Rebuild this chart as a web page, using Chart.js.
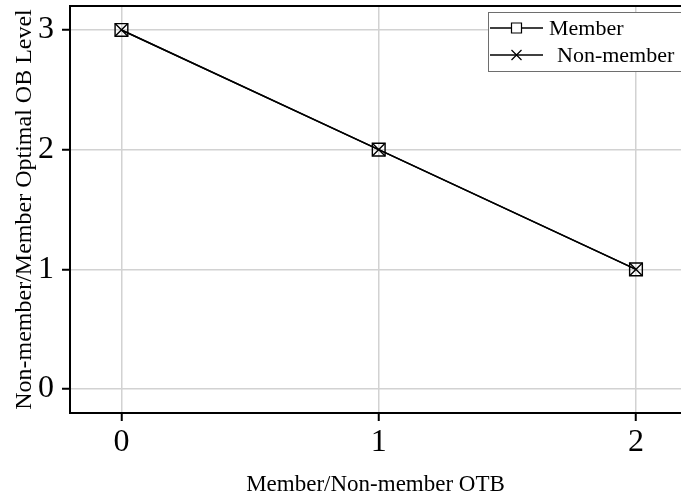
<!DOCTYPE html>
<html>
<head>
<meta charset="utf-8">
<script src="https://cdn.jsdelivr.net/npm/chart.js@4/dist/chart.umd.min.js"></script>
<style>
  html, body { margin: 0; padding: 0; background: #ffffff; }
  #wrap { width: 681px; height: 499px; }
</style>
</head>
<body>
<div id="wrap"><canvas id="c" width="681" height="499"></canvas></div>
<script>
// Data
const otbLevels = [0, 1, 2];
const memberOptimal = [3, 2, 1];
const nonMemberOptimal = [3, 2, 1];
const xTickValues = [0, 1, 2];
const yTickValues = [0, 1, 2, 3];
const seriesNames = ['Member', 'Non-member'];
const xAxisTitle = 'Member/Non-member OTB';
const yAxisTitle = 'Non-member/Member Optimal OB Level';

const serif = "'Liberation Serif', 'Times New Roman', serif";

function toPoints(xs, ys) {
  return xs.map((x, i) => ({ x: x, y: ys[i] }));
}

// Draws an open square or a diagonal cross centred on (x, y)
function drawMarker(ctx, style, x, y, half, lw) {
  ctx.save();
  ctx.lineWidth = lw;
  ctx.strokeStyle = '#000';
  ctx.beginPath();
  if (style === 'rect') {
    ctx.fillStyle = '#fff';
    ctx.rect(x - half, y - half, half * 2, half * 2);
    ctx.fill();
  } else {
    ctx.moveTo(x - half, y - half); ctx.lineTo(x + half, y + half);
    ctx.moveTo(x - half, y + half); ctx.lineTo(x + half, y - half);
  }
  ctx.stroke();
  ctx.restore();
}

// Top frame line across the plot area
const frameTop = {
  id: 'frameTop',
  afterDraw(chart) {
    const { ctx, chartArea } = chart;
    ctx.save();
    ctx.strokeStyle = '#000';
    ctx.lineWidth = 2;
    ctx.beginPath();
    ctx.moveTo(chartArea.left - 1, chartArea.top);
    ctx.lineTo(chartArea.right + 2, chartArea.top);
    ctx.stroke();
    ctx.restore();
  }
};

// Boxed legend with a line sample through each marker
const lineLegend = {
  id: 'lineLegend',
  afterDraw(chart, args, opts) {
    const ctx = chart.ctx;
    ctx.save();
    ctx.fillStyle = '#fff';
    ctx.fillRect(opts.left, opts.top, opts.right - opts.left, opts.bottom - opts.top);
    ctx.strokeStyle = '#6e6e6e';
    ctx.lineWidth = 1;
    ctx.strokeRect(opts.left + 0.5, opts.top + 0.5, opts.right - opts.left, opts.bottom - opts.top);
    ctx.font = opts.fontSize + 'px ' + serif;
    ctx.textBaseline = 'middle';
    ctx.textAlign = 'left';
    chart.data.datasets.forEach((ds, i) => {
      const y = opts.rowY[i];
      ctx.strokeStyle = '#000';
      ctx.lineWidth = 1.5;
      ctx.beginPath();
      ctx.moveTo(opts.lineX0, y);
      ctx.lineTo(opts.lineX1, y);
      ctx.stroke();
      drawMarker(ctx, ds.pointStyle, (opts.lineX0 + opts.lineX1) / 2, y, 5, 1.2);
      ctx.fillStyle = '#000';
      ctx.fillText(ds.label, opts.textX[i], y + 1);
    });
    ctx.restore();
  }
};

const commonLine = {
  borderColor: '#000',
  borderWidth: 1.6,
  pointBorderColor: '#000',
  pointBackgroundColor: 'rgba(0,0,0,0)',
  pointBorderWidth: 1.4,
  pointRadius: 9,
  tension: 0,
  showLine: true,
  clip: false
};

new Chart(document.getElementById('c'), {
  type: 'line',
  data: {
    datasets: [
      Object.assign({ label: seriesNames[0], data: toPoints(otbLevels, memberOptimal), pointStyle: 'rect' }, commonLine),
      Object.assign({ label: seriesNames[1], data: toPoints(otbLevels, nonMemberOptimal), pointStyle: 'crossRot' }, commonLine)
    ]
  },
  plugins: [frameTop, lineLegend],
  options: {
    responsive: false,
    devicePixelRatio: 1,
    animation: false,
    layout: { autoPadding: false, padding: { top: 6, right: 0, left: 0, bottom: 0 } },
    plugins: {
      legend: { display: false },
      tooltip: { enabled: false },
      lineLegend: {
        left: 488, top: 12, right: 700, bottom: 71,
        rowY: [28, 55], lineX0: 490, lineX1: 543, textX: [549, 557], fontSize: 22
      }
    },
    scales: {
      x: {
        type: 'linear',
        min: -0.2,
        max: 2.175,
        afterBuildTicks: (s) => { s.ticks = xTickValues.map(v => ({ value: v })); },
        afterFit: (s) => { s.height = 86; s.paddingLeft = 0; s.paddingRight = 0; },
        grid: { color: '#d2d2d2', lineWidth: 1.5, tickColor: '#000', tickWidth: 2, tickLength: 8, drawOnChartArea: true },
        border: { display: true, color: '#000', width: 2 },
        ticks: { color: '#000', font: { family: serif, size: 32 }, padding: 2, maxRotation: 0, callback: (v) => String(v) },
        title: { display: true, text: xAxisTitle, color: '#000', font: { family: serif, size: 23 }, padding: { top: 0, bottom: 0 } }
      },
      y: {
        type: 'linear',
        min: -0.2,
        max: 3.2,
        afterBuildTicks: (s) => { s.ticks = yTickValues.map(v => ({ value: v })); },
        afterFit: (s) => { s.width = 70; s.paddingTop = 0; s.paddingBottom = 0; },
        grid: { color: '#d2d2d2', lineWidth: 1.5, tickColor: '#000', tickWidth: 2, tickLength: 8, drawOnChartArea: true },
        border: { display: true, color: '#000', width: 2 },
        ticks: { color: '#000', font: { family: serif, size: 32 }, padding: 8, callback: (v) => String(v) },
        title: { display: true, text: yAxisTitle, color: '#000', font: { family: serif, size: 24 }, padding: { top: 10, bottom: 0 } }
      }
    }
  }
});
</script>
</body>
</html>
